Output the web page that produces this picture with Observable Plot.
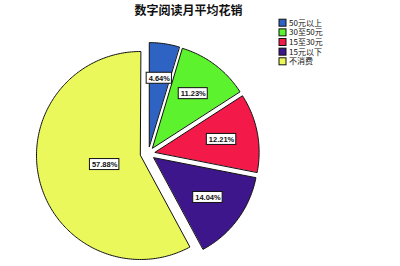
<!DOCTYPE html>
<html>
<head>
<meta charset="utf-8">
<script src="https://cdn.jsdelivr.net/npm/d3@7"></script>
<script src="https://cdn.jsdelivr.net/npm/@observablehq/plot@0.6"></script>
<style>
  body { margin: 0; background: #fff; }
</style>
</head>
<body>
<div id="chart"></div>
<script>
// Monthly spending on digital reading (share of respondents, %)
const title = "数字阅读月平均花销";
const categories = ["50元以上", "30至50元", "15至30元", "15元以下", "不消费"];
const shares = [4.64, 11.23, 12.21, 14.04, 57.88];
const colors = ["#2f63c3", "#5cf22e", "#f31a49", "#3e168b", "#ebf85b"];

const W = 400, H = 266;
const cx = 140, cy = 155, R = 104;       // pie centre and radius
const labelFont = "Liberation Sans, Arial, sans-serif";
const cjkFont = "Noto Sans CJK SC, sans-serif";

// Slices run clockwise from 12 o'clock
const total = d3.sum(shares);
const largest = d3.maxIndex(shares);
let acc = 0;
const slices = shares.map((v, i) => {
  const a0 = acc / total * 2 * Math.PI;
  acc += v;
  const a1 = acc / total * 2 * Math.PI;
  return {i, cat: categories[i], value: v, a0, a1};
});
const dir = a => [Math.sin(a), -Math.cos(a)];

// Every slice except the largest is pulled out: the group as a whole, plus a little each
const pulled = slices.filter(s => s.i !== largest);
const g = dir((d3.min(pulled, s => s.a0) + d3.max(pulled, s => s.a1)) / 2);
for (const s of slices) {
  const m = dir((s.a0 + s.a1) / 2);
  if (s.i === largest) { s.ox = 0; s.oy = 0; }
  else { s.ox = 8 * g[0] + 7 * m[0]; s.oy = 8 * g[1] + 7 * m[1]; }
  // percentage label sits at the sector's centroid
  const th = s.a1 - s.a0;
  const d = 4 * R * Math.sin(th / 2) / (3 * th);
  s.lx = cx + s.ox + d * m[0];
  s.ly = cy + s.oy + d * m[1];
  s.label = s.value.toFixed(2) + "%";
}

// Sector outlines as closed polygons
const outline = slices.flatMap(s => {
  const px = cx + s.ox, py = cy + s.oy;
  const pts = [{cat: s.cat, x: px, y: py}];
  const n = Math.max(2, Math.ceil((s.a1 - s.a0) / (Math.PI / 180)));
  for (let k = 0; k <= n; k++) {
    const [dx, dy] = dir(s.a0 + (s.a1 - s.a0) * k / n);
    pts.push({cat: s.cat, x: px + R * dx, y: py + R * dy});
  }
  return pts;
});

// Label box widths from the text's measured width
const ctx = document.createElement("canvas").getContext("2d");
ctx.font = `bold 7.5px ${labelFont}`;
for (const s of slices) s.bw = ctx.measureText(s.label).width + 4;

// Legend rows
const lgX = 279, lgY = 22.7, lgStep = 9.65, sw = 7;
const legend = categories.map((c, i) => ({cat: c, y: lgY + i * lgStep}));

const chart = Plot.plot({
  width: W,
  height: H,
  margin: 0,
  x: {domain: [0, W], range: [0, W], axis: null},
  y: {domain: [0, H], range: [0, H], axis: null},
  color: {domain: categories, range: colors},
  style: {background: "#fff"},
  marks: [
    Plot.line(outline, {
      x: "x", y: "y", z: "cat", fill: "cat",
      stroke: "#111", strokeWidth: 1, curve: "linear-closed"
    }),
    Plot.rect(slices, {
      x1: s => s.lx - s.bw / 2, x2: s => s.lx + s.bw / 2,
      y1: s => s.ly - 5.5, y2: s => s.ly + 5.5,
      fill: "#fff", stroke: "#111", strokeWidth: 1
    }),
    Plot.text(slices, {
      x: "lx", y: "ly", text: "label",
      fontSize: 7.5, fontWeight: "bold", fontFamily: labelFont, fill: "#111"
    }),
    Plot.text([title], {
      x: () => 188, y: () => 10.5, text: d => d,
      fontSize: 12, fontWeight: "bold", fontFamily: cjkFont, fill: "#111"
    }),
    Plot.rect(legend, {
      x1: () => lgX, x2: () => lgX + sw,
      y1: d => d.y - sw / 2, y2: d => d.y + sw / 2,
      fill: "cat", stroke: "#111", strokeWidth: 1
    }),
    Plot.text(legend, {
      x: () => lgX + sw + 2.5, y: "y", text: "cat", textAnchor: "start",
      fontSize: 8, fontFamily: cjkFont, fill: "#111"
    })
  ]
});

document.getElementById("chart").append(chart);
</script>
</body>
</html>
